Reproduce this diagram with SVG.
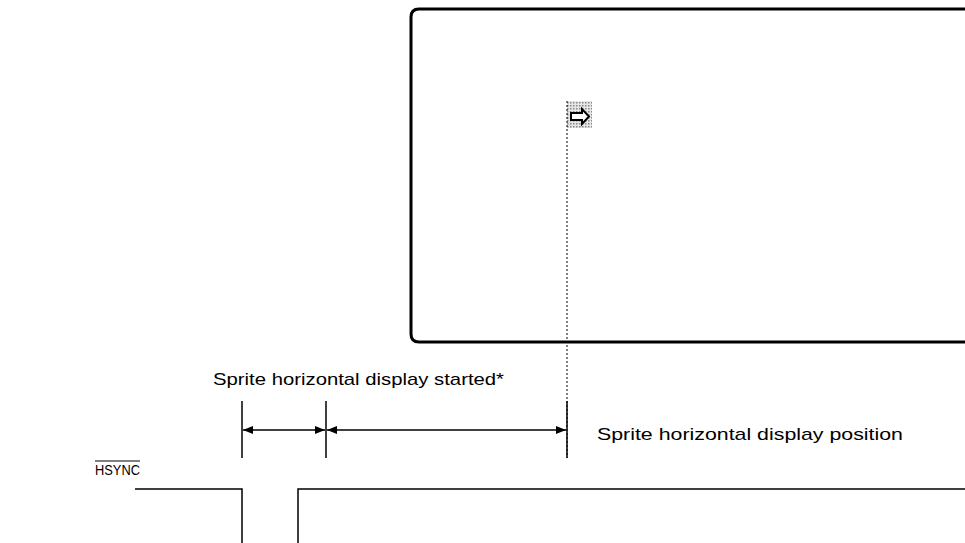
<svg xmlns="http://www.w3.org/2000/svg" width="965" height="543" viewBox="0 0 965 543">
<style>
.t{font-family:"Liberation Sans",Arial,sans-serif;font-size:17px;fill:#000}
.ln{stroke:#000;stroke-width:1.5;fill:none}
</style>
<defs>
<pattern id="dots" width="3" height="3" patternUnits="userSpaceOnUse">
<rect width="3" height="3" fill="#e6e6e6"/>
<rect width="1.5" height="1.5" fill="#888"/>
</pattern>
<marker id="ah" viewBox="0 0 10 8" refX="10" refY="4" markerWidth="10" markerHeight="8" markerUnits="userSpaceOnUse" orient="auto-start-reverse">
<path d="M0,0 L10,4 L0,8 Z" fill="#000"/>
</marker>
</defs>
<g id="screen">
<path d="M968,9 H419 Q411,9 411,17 V334 Q411,342 419,342 H968" fill="none" stroke="#000" stroke-width="3"/>
</g>
<g id="sprite">
<rect x="567" y="101" width="25" height="27" fill="url(#dots)"/>
<path d="M571,113 H582 V109 L589,116.5 L582,124 V120 H571 Z" fill="#fff" stroke="#000" stroke-width="2"/>
</g>
<g id="connectors">
<line x1="567" y1="101" x2="567" y2="458" stroke="#000" stroke-width="1" stroke-dasharray="2,2"/>
<line class="ln" x1="242" y1="401" x2="242" y2="458"/>
<line class="ln" x1="326" y1="401" x2="326" y2="458"/>
<line class="ln" x1="567" y1="401" x2="567" y2="458"/>
<line class="ln" x1="243" y1="430" x2="325" y2="430" marker-start="url(#ah)" marker-end="url(#ah)"/>
<line class="ln" x1="327" y1="430" x2="566" y2="430" marker-start="url(#ah)" marker-end="url(#ah)"/>
<path class="ln" d="M135,489 H242 V543"/>
<path class="ln" d="M298,543 V489 H965"/>
</g>
<g id="labels">
<text class="t" x="213" y="385" textLength="291" lengthAdjust="spacingAndGlyphs">Sprite horizontal display started*</text>
<text class="t" x="597" y="440" textLength="306" lengthAdjust="spacingAndGlyphs">Sprite horizontal display position</text>
<text class="t" x="95" y="475" style="font-size:15px" textLength="45" lengthAdjust="spacingAndGlyphs">HSYNC</text>
<line x1="95" y1="461" x2="140" y2="461" stroke="#000" stroke-width="1.2"/>
</g>
</svg>
